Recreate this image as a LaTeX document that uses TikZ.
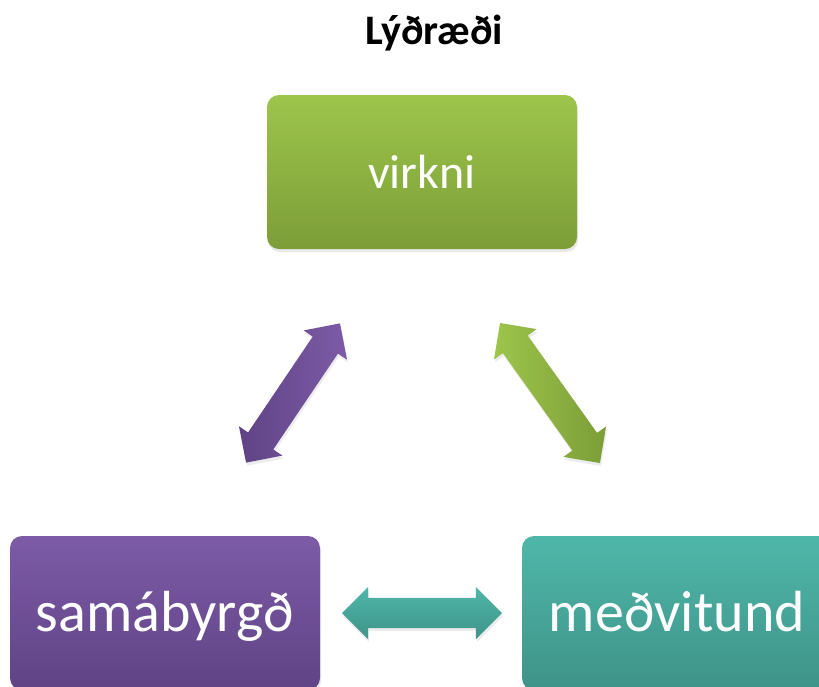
\documentclass[tikz,border=0pt]{standalone}
\usepackage{fontspec}
\setmainfont{Carlito}
\usetikzlibrary{shapes.arrows,shadows}

\definecolor{greenhi}{HTML}{9DC54B}
\definecolor{greenlo}{HTML}{7C9D38}
\definecolor{purplehi}{HTML}{7D5BA7}
\definecolor{purplelo}{HTML}{5F4385}
\definecolor{tealhi}{HTML}{4EB7A9}
\definecolor{teallo}{HTML}{3F9388}

\tikzset{
  box/.style={rounded corners=12pt, minimum width=310pt, minimum height=154pt,
    inner sep=0pt, text=white, text depth=0pt,
    drop shadow={opacity=0.18, shadow xshift=1pt, shadow yshift=-3pt}},
  twoway/.style={double arrow, inner sep=0pt, text height=15pt, text depth=15pt,
    double arrow head extend=11pt,
    drop shadow={opacity=0.15, shadow xshift=1pt, shadow yshift=-3pt}}
}

\begin{document}
\begin{tikzpicture}[x=1pt,y=-1pt]

\useasboundingbox (0,0) rectangle (819,686);
\clip (0,0) rectangle (819,686);

\node [font=\bfseries\fontsize{42}{46}\selectfont] (title) at (434,33) {Lýðræði};

\node [box, top color=greenhi, bottom color=greenlo, text height=33pt, font=\fontsize{48}{50}\selectfont] (virkni) at (422,172) {virkni};
\node [box, top color=purplehi, bottom color=purplelo, text height=36pt, font=\fontsize{58}{60}\selectfont] (samabyrgd) at (165,613) {samábyrgð};
\node [box, top color=tealhi, bottom color=teallo, text height=36pt, font=\fontsize{58}{60}\selectfont] (medvitund) at (677,613) {meðvitund};

\node [twoway, minimum height=168pt, rotate=56, left color=purplelo, right color=purplehi] (leftarrow) at (293,393) {};
\node [twoway, minimum height=172pt, rotate=-54.5, left color=greenhi, right color=greenlo] (rightarrow) at (550,393) {};
\node [twoway, minimum height=160pt, top color=tealhi, bottom color=teallo] (bottomarrow) at (422,613) {};

\end{tikzpicture}
\end{document}
